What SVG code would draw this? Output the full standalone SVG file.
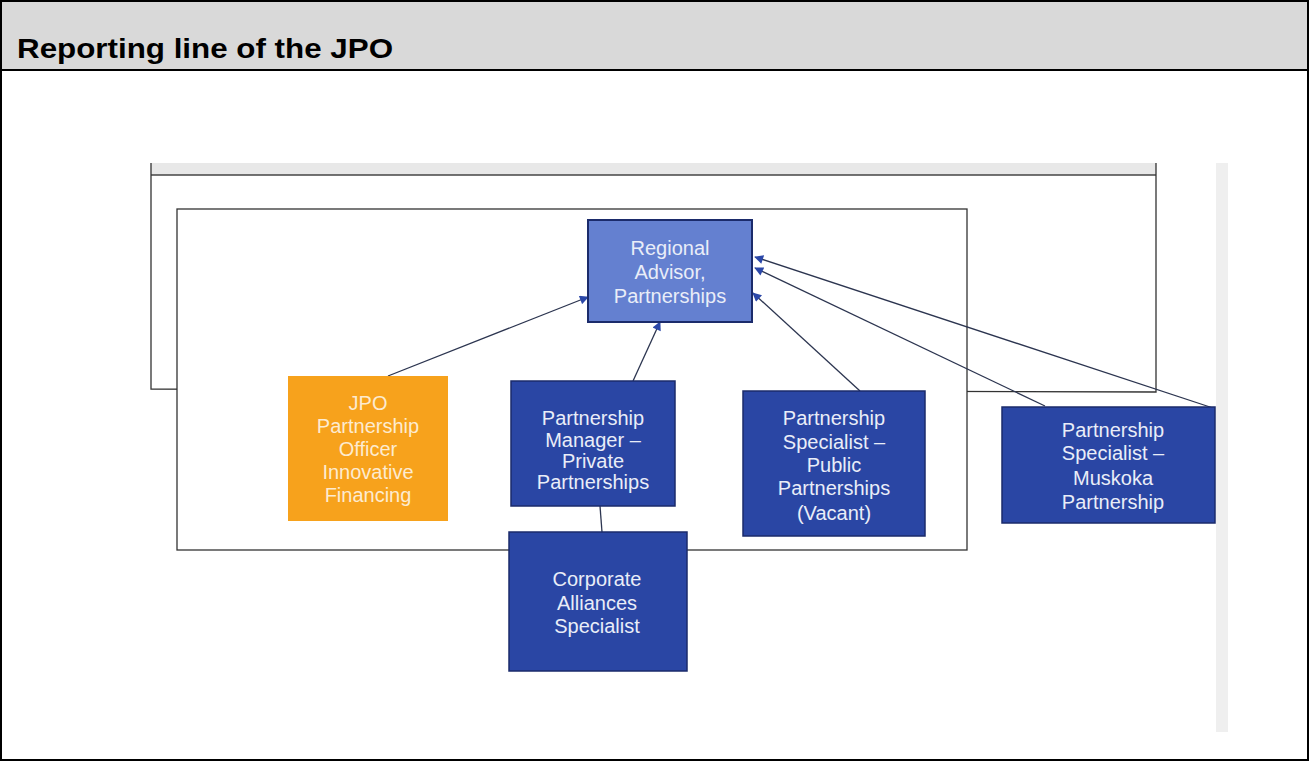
<svg xmlns="http://www.w3.org/2000/svg" width="1309" height="761" viewBox="0 0 1309 761">
<defs>
<style>
.title{font-family:"Liberation Sans",Arial,sans-serif;font-weight:bold;font-size:28px;fill:#000}
.lbl{font-family:"Liberation Sans",Arial,sans-serif;font-size:20px;text-anchor:middle;fill:#e9edf8}
.lblo{font-family:"Liberation Sans",Arial,sans-serif;font-size:20px;text-anchor:middle;fill:#fdebd0}
.dark{fill:#2a46a4;stroke:#1b2b6b;stroke-width:1.5}
.mid{fill:#6480d0;stroke:#1b2b6b;stroke-width:2}
.orange{fill:#f7a21c;stroke:none}
.conn{stroke:#2c3550;stroke-width:1.3;fill:none}
.frame{stroke:#333;stroke-width:1.3;fill:none}
</style>
<marker id="ah" viewBox="0 0 10 10" refX="9" refY="5" markerWidth="11" markerHeight="9" markerUnits="userSpaceOnUse" orient="auto">
<path d="M0,0 L10,5 L0,10 z" fill="#2b47a8"/>
</marker>
</defs>
<rect x="0" y="0" width="1309" height="761" fill="#fff"/>
<rect x="1" y="1" width="1307" height="69" fill="#d9d9d9"/>
<line x1="0" y1="70" x2="1309" y2="70" stroke="#000" stroke-width="2"/>
<rect x="1" y="1" width="1307" height="759" fill="none" stroke="#000" stroke-width="2"/>
<text class="title" x="17" y="58" textLength="376" lengthAdjust="spacingAndGlyphs">Reporting line of the JPO</text>

<g id="background">
<rect x="151" y="163" width="1005" height="12" fill="#e8e8e8"/>
<line x1="151" y1="175" x2="1156" y2="175" stroke="#444" stroke-width="1.3"/>
<path class="frame" d="M151,163 L151,389 L1156,392 L1156,163"/>
<rect x="1216" y="163" width="12" height="569" fill="#efefef"/>
<rect x="177" y="209" width="790" height="341" fill="#fff" stroke="#333" stroke-width="1.3"/>
</g>

<g id="connectors">
<line class="conn" x1="388" y1="376" x2="588" y2="297" marker-end="url(#ah)"/>
<line class="conn" x1="633" y1="381" x2="660" y2="322" marker-end="url(#ah)"/>
<line class="conn" x1="860" y1="391" x2="753" y2="293" marker-end="url(#ah)"/>
<line class="conn" x1="1045" y1="406" x2="755" y2="268" marker-end="url(#ah)"/>
<line class="conn" x1="1213" y1="408" x2="755" y2="257" marker-end="url(#ah)"/>
<line class="conn" x1="600" y1="506" x2="602" y2="532"/>
</g>

<g id="regional-advisor">
<rect class="mid" x="588" y="220" width="164" height="102"/>
<text class="lbl" x="670" y="255">Regional</text>
<text class="lbl" x="670" y="279">Advisor,</text>
<text class="lbl" x="670" y="303">Partnerships</text>
</g>

<g id="jpo">
<rect class="orange" x="288" y="376" width="160" height="145"/>
<text class="lblo" x="368" y="410">JPO</text>
<text class="lblo" x="368" y="433">Partnership</text>
<text class="lblo" x="368" y="456">Officer</text>
<text class="lblo" x="368" y="479">Innovative</text>
<text class="lblo" x="368" y="502">Financing</text>
</g>

<g id="manager-private">
<rect class="dark" x="511" y="381" width="164" height="125"/>
<text class="lbl" x="593" y="425">Partnership</text>
<text class="lbl" x="593" y="447">Manager –</text>
<text class="lbl" x="593" y="468">Private</text>
<text class="lbl" x="593" y="489">Partnerships</text>
</g>

<g id="specialist-public">
<rect class="dark" x="743" y="391" width="182" height="145"/>
<text class="lbl" x="834" y="425">Partnership</text>
<text class="lbl" x="834" y="449">Specialist –</text>
<text class="lbl" x="834" y="472">Public</text>
<text class="lbl" x="834" y="495">Partnerships</text>
<text class="lbl" x="834" y="520">(Vacant)</text>
</g>

<g id="specialist-muskoka">
<rect class="dark" x="1002" y="407" width="213" height="116"/>
<text class="lbl" x="1113" y="437">Partnership</text>
<text class="lbl" x="1113" y="460">Specialist –</text>
<text class="lbl" x="1113" y="485">Muskoka</text>
<text class="lbl" x="1113" y="509">Partnership</text>
</g>

<g id="corporate-alliances">
<rect class="dark" x="509" y="532" width="178" height="139"/>
<text class="lbl" x="597" y="586">Corporate</text>
<text class="lbl" x="597" y="610">Alliances</text>
<text class="lbl" x="597" y="633">Specialist</text>
</g>
</svg>
